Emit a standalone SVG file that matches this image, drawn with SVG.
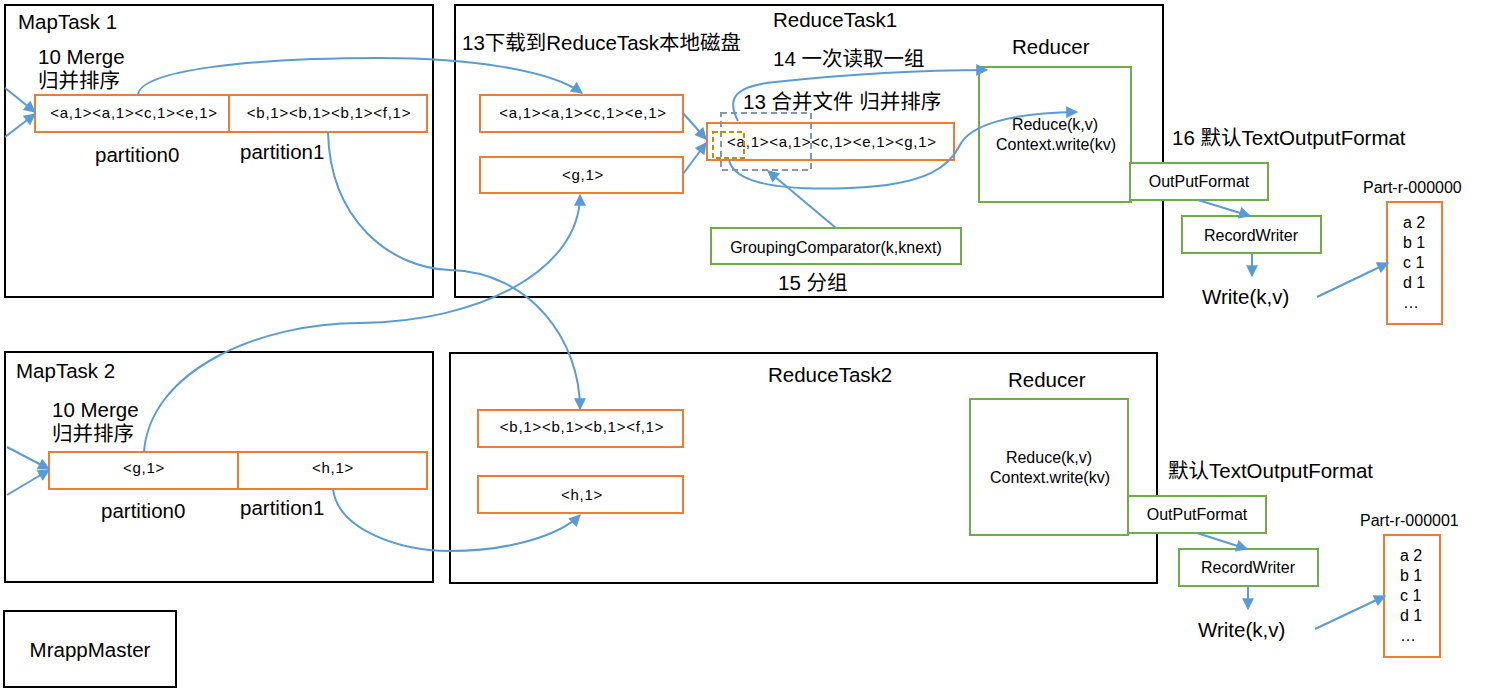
<svg xmlns="http://www.w3.org/2000/svg" width="1489" height="689" viewBox="0 0 1489 689">
<style>
text{font-family:"Liberation Sans","Noto Sans CJK SC",sans-serif;fill:#000}
.big{font-size:20.5px}
.kv{font-size:15px;letter-spacing:0.75px}
.mid{font-size:16px}
.sm{font-size:16px}
.task{fill:#fff;stroke:#000;stroke-width:2}
.org{fill:#fff;stroke:#ED7D31;stroke-width:2}
.grn{fill:#fff;stroke:#70AD47;stroke-width:2}
.con{fill:none;stroke:#5B9BD5;stroke-width:2;marker-end:url(#ah)}
</style>
<defs>
<marker id="ah" viewBox="0 0 10 10" refX="9" refY="5" markerUnits="userSpaceOnUse" markerWidth="13" markerHeight="12" orient="auto">
<path d="M0,0 L10,5 L0,10 z" fill="#5B9BD5"/>
</marker>
</defs>
<rect width="1489" height="689" fill="#fff"/>

<g id="maptask1">
<rect class="task" x="5" y="5" width="428" height="292"/>
<text class="big" x="18" y="29">MapTask 1</text>
<text class="big" x="38" y="64">10 Merge</text>
<text class="big" x="38" y="88">归并排序</text>
<rect class="org" x="35" y="95" width="392" height="37"/>
<line x1="229" y1="95" x2="229" y2="132" stroke="#ED7D31" stroke-width="2"/>
<text class="kv" x="134" y="118" text-anchor="middle">&lt;a,1&gt;&lt;a,1&gt;&lt;c,1&gt;&lt;e,1&gt;</text>
<text class="kv" x="329" y="118" text-anchor="middle">&lt;b,1&gt;&lt;b,1&gt;&lt;b,1&gt;&lt;f,1&gt;</text>
<text class="big" x="95" y="162">partition0</text>
<text class="big" x="240" y="159">partition1</text>
</g>

<g id="reducetask1">
<rect class="task" x="455" y="5" width="708" height="292"/>
<text class="big" x="773" y="27">ReduceTask1</text>
<text class="big" x="462" y="50">13下载到ReduceTask本地磁盘</text>
<text class="big" x="773" y="66">14 一次读取一组</text>
<text class="big" x="743" y="109">13 合并文件 归并排序</text>
<text class="big" x="1012" y="54">Reducer</text>
<text class="big" x="778" y="290">15 分组</text>
</g>

<g id="box-ace">
<rect class="org" x="480" y="95" width="203" height="37"/>
<text class="kv" x="583" y="118" text-anchor="middle">&lt;a,1&gt;&lt;a,1&gt;&lt;c,1&gt;&lt;e,1&gt;</text>
</g>
<g id="box-g">
<rect class="org" x="480" y="157" width="203" height="36"/>
<text class="kv" x="583" y="180" text-anchor="middle">&lt;g,1&gt;</text>
</g>
<g id="box-merged">
<rect class="org" x="707" y="123" width="247" height="37"/>
<text class="kv" x="832" y="147" text-anchor="middle">&lt;a,1&gt;&lt;a,1&gt;&lt;c,1&gt;&lt;e,1&gt;&lt;g,1&gt;</text>
<rect x="721" y="113" width="90" height="57" fill="none" stroke="#8497B0" stroke-width="2" stroke-dasharray="6,4"/>
<rect x="713" y="132" width="31" height="26" fill="none" stroke="#BF9000" stroke-width="2" stroke-dasharray="5,3"/>
</g>
<g id="grouping">
<rect class="grn" x="711" y="228" width="250" height="36"/>
<text class="mid" x="836" y="253" text-anchor="middle">GroupingComparator(k,knext)</text>
</g>
<g id="reducer1">
<rect class="grn" x="979" y="67" width="152" height="135"/>
<text class="sm" x="1055" y="130" text-anchor="middle">Reduce(k,v)</text>
<text class="sm" x="1056" y="150" text-anchor="middle">Context.write(kv)</text>
</g>
<g id="outputformat1">
<rect class="grn" x="1130" y="163" width="138" height="37"/>
<text class="sm" x="1199" y="187" text-anchor="middle">OutPutFormat</text>
</g>
<text class="big" x="1172" y="145">16 默认TextOutputFormat</text>
<g id="recordwriter1">
<rect class="grn" x="1182" y="216" width="139" height="37"/>
<text class="sm" x="1251" y="241" text-anchor="middle">RecordWriter</text>
</g>
<text class="big" x="1202" y="304">Write(k,v)</text>
<g id="file1">
<text class="sm" x="1363" y="193">Part-r-000000</text>
<rect class="org" x="1387" y="202" width="55" height="122"/>
<text class="sm" x="1403" y="228">a 2</text>
<text class="sm" x="1403" y="248">b 1</text>
<text class="sm" x="1403" y="268">c 1</text>
<text class="sm" x="1403" y="288">d 1</text>
<text class="sm" x="1403" y="308">…</text>
</g>

<g id="maptask2">
<rect class="task" x="5" y="352" width="428" height="230"/>
<text class="big" x="16" y="378">MapTask 2</text>
<text class="big" x="52" y="417">10 Merge</text>
<text class="big" x="52" y="441">归并排序</text>
<rect class="org" x="49" y="452" width="378" height="37"/>
<line x1="238" y1="452" x2="238" y2="489" stroke="#ED7D31" stroke-width="2"/>
<text class="kv" x="144" y="473" text-anchor="middle">&lt;g,1&gt;</text>
<text class="kv" x="333" y="473" text-anchor="middle">&lt;h,1&gt;</text>
<text class="big" x="101" y="518">partition0</text>
<text class="big" x="240" y="515">partition1</text>
</g>

<g id="reducetask2">
<rect class="task" x="450" y="353" width="707" height="230"/>
<text class="big" x="768" y="382">ReduceTask2</text>
<text class="big" x="1008" y="387">Reducer</text>
</g>
<g id="box-bbbf">
<rect class="org" x="478" y="410" width="205" height="37"/>
<text class="kv" x="582" y="432" text-anchor="middle">&lt;b,1&gt;&lt;b,1&gt;&lt;b,1&gt;&lt;f,1&gt;</text>
</g>
<g id="box-h">
<rect class="org" x="478" y="476" width="205" height="37"/>
<text class="kv" x="582" y="500" text-anchor="middle">&lt;h,1&gt;</text>
</g>
<g id="reducer2">
<rect class="grn" x="970" y="399" width="158" height="136"/>
<text class="sm" x="1049" y="463" text-anchor="middle">Reduce(k,v)</text>
<text class="sm" x="1050" y="483" text-anchor="middle">Context.write(kv)</text>
</g>
<text class="big" x="1168" y="478">默认TextOutputFormat</text>
<g id="outputformat2">
<rect class="grn" x="1128" y="496" width="138" height="37"/>
<text class="sm" x="1197" y="520" text-anchor="middle">OutPutFormat</text>
</g>
<g id="recordwriter2">
<rect class="grn" x="1179" y="549" width="139" height="37"/>
<text class="sm" x="1248" y="573" text-anchor="middle">RecordWriter</text>
</g>
<text class="big" x="1198" y="637">Write(k,v)</text>
<g id="file2">
<text class="sm" x="1360" y="526">Part-r-000001</text>
<rect class="org" x="1384" y="535" width="56" height="122"/>
<text class="sm" x="1400" y="561">a 2</text>
<text class="sm" x="1400" y="581">b 1</text>
<text class="sm" x="1400" y="601">c 1</text>
<text class="sm" x="1400" y="621">d 1</text>
<text class="sm" x="1400" y="641">…</text>
</g>

<g id="mrappmaster">
<rect class="task" x="4" y="611" width="172" height="76"/>
<text class="big" x="90" y="657" text-anchor="middle">MrappMaster</text>
</g>

<g id="connectors">
<path class="con" d="M5,88 L35,112"/>
<path class="con" d="M5,137 L35,114"/>
<path class="con" d="M7,447 L49,469"/>
<path class="con" d="M7,495 L49,470"/>
<path class="con" d="M138,95 C140,70 250,58 380,58 C470,58 550,70 582,93"/>
<path class="con" d="M328,132 C330,220 390,268 450,270 C530,272 580,340 580,409"/>
<path class="con" d="M144,452 C150,370 260,323 360,323 C480,322 580,270 580,195"/>
<path class="con" d="M333,489 C338,530 400,551 450,551 C510,551 560,535 580,515"/>
<path class="con" d="M683,113 L706,139"/>
<path class="con" d="M683,174 L706,143"/>
<path class="con" d="M836,228 L768,171"/>
<path class="con" d="M738,121 C726,98 735,86 775,82 C850,74 920,70 987,70"/>
<path class="con" d="M729,160 C735,188 800,190 850,188 C930,185 950,165 960,145 C970,125 1010,113 1077,112"/>
<path class="con" d="M1198,200 L1250,216"/>
<path class="con" d="M1252,253 L1252,276"/>
<path class="con" d="M1317,297 L1388,263"/>
<path class="con" d="M1197,533 L1247,549"/>
<path class="con" d="M1248,586 L1248,609"/>
<path class="con" d="M1315,629 L1385,596"/>
</g>
</svg>
